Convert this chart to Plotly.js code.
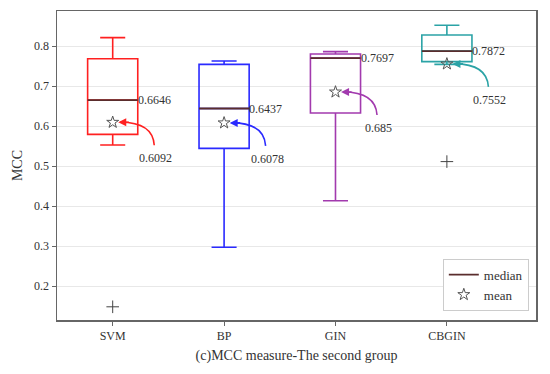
<!DOCTYPE html>
<html><head><meta charset="utf-8">
<script src="https://cdn.plot.ly/plotly-3.0.1.min.js"></script>
<style>html,body{margin:0;padding:0;background:#fff}#c{width:550px;height:374px}</style>
</head><body><div id="c"></div>
<script>
const categories = ['SVM','BP','GIN','CBGIN'];
const lowerWhisker = [0.5525, 0.297, 0.413, 0.754];
const q1Values = [0.579, 0.544, 0.6325, 0.761];
const medianValues = [0.6646, 0.6437, 0.7697, 0.7872];
const q3Values = [0.768, 0.754, 0.780, 0.8275];
const upperWhisker = [0.821, 0.7625, 0.786, 0.852];
const meanValues = [0.6092, 0.6078, 0.685, 0.7552];
const medianLabels = ['0.6646','0.6437','0.7697','0.7872'];
const meanLabels = ['0.6092','0.6078','0.685','0.7552'];
const outlierCat = [0, 3];
const outlierValues = [0.148, 0.511];
const colors = ['#ff2020','#2a2aff','#a23aae','#2ba3a6'];

const BW = 0.45;
const font = 'Liberation Serif, Times New Roman, serif';
const traces = [];
categories.forEach((c,i)=>{
  traces.push({type:'box', x:[i], q1:[q1Values[i]], median:[medianValues[i]], q3:[q3Values[i]],
    lowerfence:[lowerWhisker[i]], upperfence:[upperWhisker[i]], boxpoints:false,
    width:BW, whiskerwidth:0.5, line:{color:colors[i], width:1.6}, fillcolor:'rgba(0,0,0,0)',
    showlegend:false, hoverinfo:'skip'});
});
const mx=[], my=[];
categories.forEach((c,i)=>{ mx.push(i-BW/2, i+BW/2, null); my.push(medianValues[i], medianValues[i], null); });
traces.push({type:'scatter', mode:'lines', x:mx, y:my, line:{color:'#5a2d2d', width:1.8}, name:'median'});
traces.push({type:'scatter', mode:'markers', x:categories.map((c,i)=>i), y:meanValues,
  marker:{symbol:'star-open', size:9, color:'#555', line:{width:1, color:'#555'}}, name:'mean'});
traces.push({type:'scatter', mode:'markers', x:outlierCat, y:outlierValues, showlegend:false,
  marker:{symbol:'cross-thin-open', size:9, color:'#444', line:{width:1, color:'#444'}}});

const shapes = [], annotations = [];
categories.forEach((c,i)=>{
  const m = meanValues[i];
  shapes.push({type:'path', xref:'x', yref:'y',
    path:`M ${i+0.373},${m-0.0575} Q ${i+0.36},${m} ${i+0.07},${m}`,
    line:{color:colors[i], width:1.6}});
  annotations.push({x:i+0.05, y:m, xref:'x', yref:'y', ax:12, ay:0, text:'', showarrow:true,
    arrowhead:2, arrowsize:1, arrowwidth:1.6, arrowcolor:colors[i]});
  annotations.push({x:i, y:m, xref:'x', yref:'y', xshift:43, yshift:-36, text:meanLabels[i],
    showarrow:false, font:{family:font, size:12, color:'#333'}});
  annotations.push({x:i+BW/2, y:medianValues[i], xref:'x', yref:'y', xanchor:'left', text:medianLabels[i],
    showarrow:false, xshift:-2, font:{family:font, size:12, color:'#333'}});
});

const layout = {
  width:550, height:374, margin:{l:57, r:14, t:11, b:54},
  paper_bgcolor:'#fff', plot_bgcolor:'#fff',
  font:{family:font, size:12, color:'#333'},
  xaxis:{range:[-0.5,3.8], tickvals:[0,1,2,3], ticktext:categories, showgrid:false, zeroline:false,
    showline:true, mirror:true, linecolor:'#666', linewidth:1.5, ticks:'outside', ticklen:4, tickcolor:'#666',
    tickfont:{family:font, size:12, color:'#333'},
    title:{text:'(c)MCC measure-The second group', standoff:8, font:{family:font, size:14, color:'#333'}}},
  yaxis:{range:[0.115,0.8875], tickvals:[0.2,0.3,0.4,0.5,0.6,0.7,0.8], ticktext:['0.2','0.3','0.4','0.5','0.6','0.7','0.8'],
    showgrid:true, gridcolor:'#e8e8e8', zeroline:false,
    showline:true, mirror:true, linecolor:'#666', linewidth:1.5, ticks:'outside', ticklen:4, tickcolor:'#666',
    tickfont:{family:font, size:12, color:'#333'},
    title:{text:'MCC', standoff:8, font:{family:font, size:14, color:'#333'}}},
  legend:{x:0.985, y:0.03, xanchor:'right', yanchor:'bottom', bgcolor:'#fff', bordercolor:'#ccc', borderwidth:1,
    font:{family:font, size:13, color:'#333'}},
  shapes:shapes, annotations:annotations, showlegend:true
};
Plotly.newPlot('c', traces, layout, {staticPlot:true});
</script></body></html>
